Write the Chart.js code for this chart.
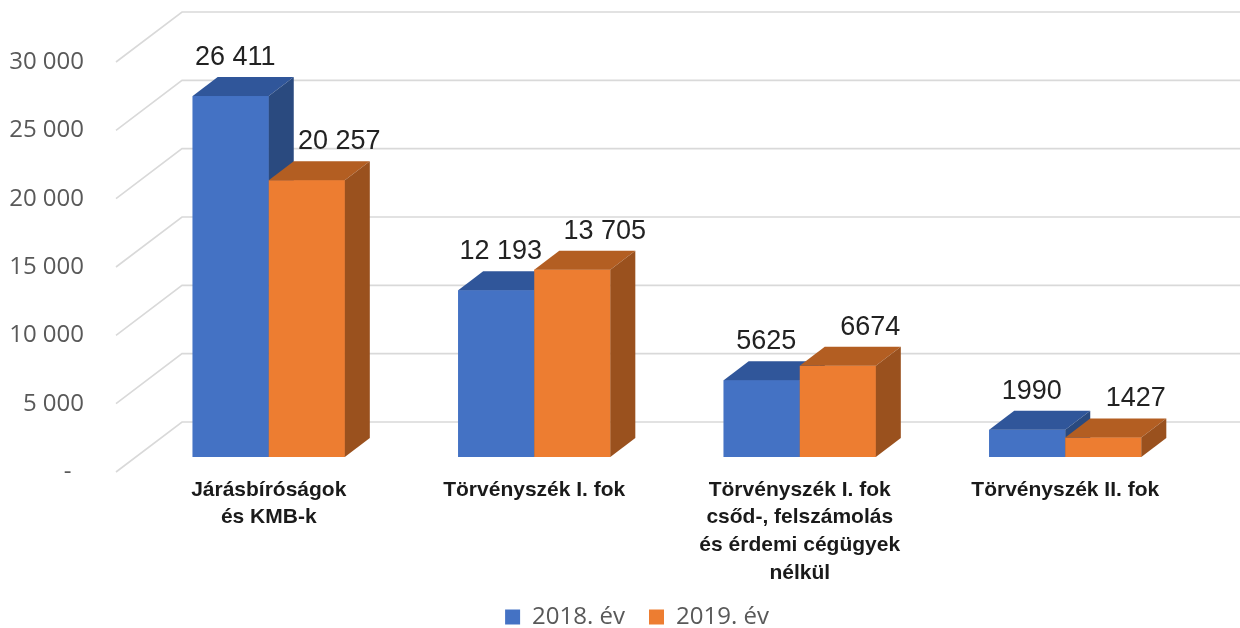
<!DOCTYPE html>
<html>
<head>
<meta charset="utf-8">
<script src="https://cdn.jsdelivr.net/npm/chart.js@4"></script>
<style>
  html, body { margin: 0; padding: 0; background: #fff; }
  #wrap { width: 1240px; height: 628px; }
</style>
</head>
<body>
<div id="wrap"><canvas id="chart" width="1240" height="628"></canvas></div>
<script>
// Chart data
const categories = [
    ['Járásbíróságok', 'és KMB-k'],
    'Törvényszék I. fok',
    ['Törvényszék I. fok', 'csőd-, felszámolás', 'és érdemi cégügyek', 'nélkül'],
    'Törvényszék II. fok'
];
const seriesNames = ['2018. év', '2019. év'];
const values2018 = [26411, 12193, 5625, 1990];
const values2019 = [20257, 13705, 6674, 1427];
const yMin = 0;
const yMax = 30000;
const yStep = 5000;

// Colours: front, top, side
const faceColors = [
    { front: '#4472c4', top: '#30569a', side: '#2a4a7f' },
    { front: '#ed7d31', top: '#b35e22', side: '#9a511e' }
];

// 3D look
const BAR_DX = 25, BAR_DY = 19;          // depth of each bar
const WALL_FRONT = { dx: -20, dy: 15 };  // front edge of the side wall, from bar plane
const WALL_BACK = { dx: 46, dy: -35 };   // back wall, from bar plane
const LABEL_SHIFT = [-8, 20];            // spread the two value labels apart a little
const LEGEND_SHIFT = 38;                 // legend is centred on the plot, not the canvas

function spaced(n) {
    return String(n).replace(/\B(?=(\d{3})+(?!\d))/g, ' ');
}

const depthPlugin = {
    id: 'depth',
    beforeInit(chart) {
        // trim the legend box so it sits lower
        if (chart.legend) {
            const fit = chart.legend.fit;
            chart.legend.fit = function () {
                fit.call(this);
                this.height -= 11;
            };
        }
    },
    afterLayout(chart) {
        if (chart.legend) {
            chart.legend.left += LEGEND_SHIFT;
            chart.legend.right += LEGEND_SHIFT;
        }
    },
    beforeDatasetsDraw(chart) {
        const ctx = chart.ctx;
        const y = chart.scales.y;
        const area = chart.chartArea;
        ctx.save();
        ctx.strokeStyle = '#d9d9d9';
        ctx.lineWidth = 1.6;
        y.ticks.forEach(t => {
            const py = y.getPixelForValue(t.value);
            ctx.beginPath();
            ctx.moveTo(area.left + WALL_FRONT.dx, py + WALL_FRONT.dy);
            ctx.lineTo(area.left + WALL_BACK.dx, py + WALL_BACK.dy);
            ctx.lineTo(chart.width, py + WALL_BACK.dy);
            ctx.stroke();
        });
        ctx.restore();
    },
    afterDatasetsDraw(chart) {
        const ctx = chart.ctx;
        const metas = chart.data.datasets.map((d, i) => chart.getDatasetMeta(i));
        ctx.save();
        categories.forEach((c, i) => {
            metas.forEach((meta, d) => {
                const bar = meta.data[i];
                const x0 = bar.x - bar.width / 2;
                const x1 = bar.x + bar.width / 2;
                const top = bar.y, base = bar.base;
                const col = faceColors[d];
                // front (repaint so it covers the neighbour's side face)
                ctx.fillStyle = col.front;
                ctx.fillRect(x0, top, x1 - x0, base - top);
                // top face
                ctx.fillStyle = col.top;
                ctx.beginPath();
                ctx.moveTo(x0, top);
                ctx.lineTo(x0 + BAR_DX, top - BAR_DY);
                ctx.lineTo(x1 + BAR_DX, top - BAR_DY);
                ctx.lineTo(x1, top);
                ctx.closePath();
                ctx.fill();
                // side face
                ctx.fillStyle = col.side;
                ctx.beginPath();
                ctx.moveTo(x1, top);
                ctx.lineTo(x1 + BAR_DX, top - BAR_DY);
                ctx.lineTo(x1 + BAR_DX, base - BAR_DY);
                ctx.lineTo(x1, base);
                ctx.closePath();
                ctx.fill();
            });
        });
        // value labels
        ctx.fillStyle = '#222222';
        ctx.font = '27px "Liberation Sans", Arial, sans-serif';
        ctx.textAlign = 'center';
        ctx.textBaseline = 'alphabetic';
        metas.forEach((meta, d) => {
            const vals = chart.data.datasets[d].data;
            meta.data.forEach((bar, i) => {
                const v = vals[i];
                const txt = v >= 10000 ? spaced(v) : String(v);
                ctx.fillText(txt, bar.x + BAR_DX / 2 + LABEL_SHIFT[d], bar.y - BAR_DY - 12);
            });
        });
        ctx.restore();
    }
};

const ctx = document.getElementById('chart').getContext('2d');
new Chart(ctx, {
    type: 'bar',
    data: {
        labels: categories,
        datasets: [
            { label: seriesNames[0], data: values2018, backgroundColor: faceColors[0].front },
            { label: seriesNames[1], data: values2019, backgroundColor: faceColors[1].front }
        ]
    },
    options: {
        responsive: false,
        animation: false,
        layout: { padding: { top: 47, right: 42, left: 0, bottom: 0 } },
        datasets: { bar: { categoryPercentage: 0.573, barPercentage: 1.0 } },
        plugins: {
            tooltip: { enabled: false },
            legend: {
                position: 'bottom',
                labels: {
                    boxWidth: 15,
                    boxHeight: 15,
                    padding: 24,
                    color: '#595959',
                    font: { family: '"Open Sans", sans-serif', size: 24 }
                }
            }
        },
        scales: {
            x: {
                grid: { display: false },
                border: { display: false },
                afterFit: s => { s.height = 124; },
                ticks: {
                    autoSkip: false,
                    maxRotation: 0,
                    padding: 11,
                    color: '#1a1a1a',
                    font: { family: '"Liberation Sans Narrow", "Arial Narrow", "Liberation Sans", sans-serif', size: 21, weight: 'bold', lineHeight: 1.32 }
                }
            },
            y: {
                min: yMin,
                max: yMax,
                grid: { display: false, drawTicks: false },
                border: { display: false },
                afterFit: s => {
                    s.width = 136;
                    s.paddingTop = 0;
                    s.paddingBottom = 0;
                },
                ticks: {
                    stepSize: yStep,
                    padding: 52,
                    labelOffset: WALL_FRONT.dy,
                    color: '#595959',
                    font: { family: '"Open Sans", sans-serif', size: 24 },
                    callback: v => v === 0 ? '-  ' : spaced(v)
                }
            }
        }
    },
    plugins: [depthPlugin]
});
</script>
</body>
</html>
